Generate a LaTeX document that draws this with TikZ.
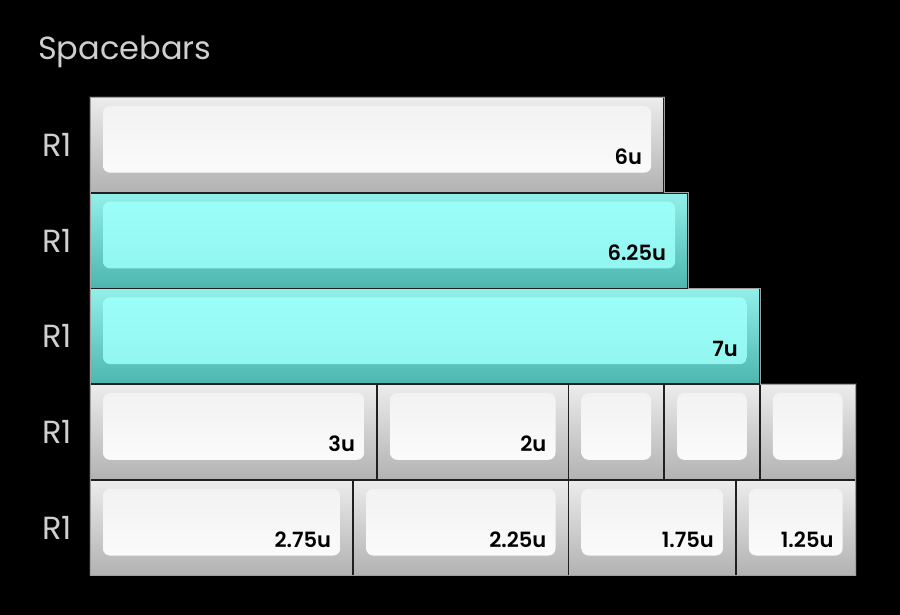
\documentclass[tikz,border=0pt]{standalone}
\usepackage{fontspec}
\setmainfont{Poppins}
\newfontfamily\capfont{Poppins SemiBold}
\usetikzlibrary{positioning}

\definecolor{edge}{HTML}{202020}
\definecolor{rim}{HTML}{A0A0A0}
\definecolor{labelgray}{HTML}{CFCFCF}
\definecolor{wside}{HTML}{ECECEC}
\definecolor{wbottom}{HTML}{B2B2B2}
\definecolor{wfaceT}{HTML}{F1F1F1}
\definecolor{wfaceB}{HTML}{FDFDFD}
\definecolor{cside}{HTML}{92F0EA}
\definecolor{cbottom}{HTML}{4DB5AF}
\definecolor{cfaceT}{HTML}{9EFFFA}
\definecolor{cfaceB}{HTML}{8FF3ED}

\def\ku{95.7}

\tikzset{
  keycap/.style={rectangle, outer sep=0pt, inner sep=0pt,
    minimum height=\ku pt, minimum width={#1*\ku pt},
    draw=edge, line width=1.8pt},
  capface/.style 2 args={path picture={
    \shade[top color=#1, bottom color=#2, rounded corners=7pt]
      ([xshift=13pt,yshift=-9pt]path picture bounding box.north west) rectangle
      ([xshift=-13pt,yshift=20pt]path picture bounding box.south east);}},
  whitecap/.style={keycap=#1, top color=wside, bottom color=wbottom,
    capface={wfaceT}{wfaceB}},
  cyancap/.style={keycap=#1, top color=cside, bottom color=cbottom,
    capface={cfaceT}{cfaceB}},
  caplabel/.style={anchor=base east, inner sep=0pt, font=\capfont\fontsize{21}{24}\selectfont},
  rowlabel/.style={inner sep=0pt, text=labelgray, font=\fontsize{32}{36}\selectfont}
}

\begin{document}
\begin{tikzpicture}[x=1pt, y=-1pt]
  \fill[black] (0,0) rectangle (900,615);
  \useasboundingbox (0,0) rectangle (900,615);

  \node[rowlabel, anchor=base west] (title) at (38,60) {Spacebars};

  % spacebar rows
  \node[whitecap=6, anchor=north west] (k6) at (90,97) {};
  \node[cyancap=6.25, anchor=north west] (k625) at (k6.south west) {};
  \node[cyancap=7, anchor=north west] (k7) at (k625.south west) {};

  \node[whitecap=3, anchor=north west] (k3) at (k7.south west) {};
  \node[whitecap=2, right=0pt of k3] (k2) {};
  \node[whitecap=1, right=0pt of k2] (k1a) {};
  \node[whitecap=1, right=0pt of k1a] (k1b) {};
  \node[whitecap=1, right=0pt of k1b] (k1c) {};

  \node[whitecap=2.75, anchor=north west] (k275) at (k3.south west) {};
  \node[whitecap=2.25, right=0pt of k275] (k225) {};
  \node[whitecap=1.75, right=0pt of k225] (k175) {};
  \node[whitecap=1.25, right=0pt of k175] (k125) {};

  % outer rim
  \draw[rim, line width=0.8pt] (k6.north west) -- (k6.north east) -- (k6.south east)
    -- (k625.north east) -- (k625.south east) -- (k7.north east) -- (k7.south east)
    -- (k1c.north east) -- (k125.south east) -- (k275.south west) -- cycle;

  % sizes
  \foreach \k/\t in {k6/6u, k625/6.25u, k7/7u, k3/3u, k2/2u,
                     k275/2.75u, k225/2.25u, k175/1.75u, k125/1.25u}
    \node[caplabel] (l\k) at ([xshift=-22pt,yshift=28pt]\k.south east) {\t};

  % row names
  \foreach \k/\n in {k6/r1, k625/r2, k7/r3, k3/r4, k275/r5}
    \node[rowlabel, left=18pt of \k] (\n) {R1};
\end{tikzpicture}
\end{document}
